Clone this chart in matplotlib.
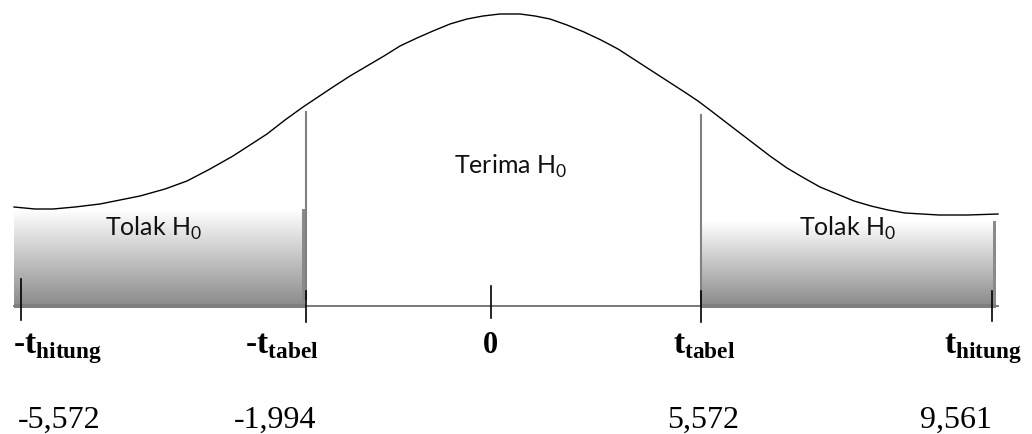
import numpy as np
import matplotlib.pyplot as plt
from matplotlib.colors import LinearSegmentedColormap

plt.rcParams['mathtext.fontset'] = 'custom'
plt.rcParams['mathtext.bf'] = 'Liberation Serif:bold'
plt.rcParams['mathtext.rm'] = 'Liberation Serif'
plt.rcParams['mathtext.sf'] = 'Lato'

# schematic curve (x to the right, height downwards)
curve_x = [14, 35, 53, 75, 100, 120, 140, 165, 187, 210, 233, 250, 267, 285, 303,
           318, 333, 350, 367, 384, 400, 417, 433, 450, 467, 483, 500, 510, 520,
           535, 550, 567, 584, 601, 618, 635, 652, 669, 686, 698, 710, 723, 736,
           753, 770, 787, 804, 820, 837, 854, 871, 888, 905, 922, 939, 968, 998]
curve_y = [208, 210, 210, 208, 205, 201, 197, 190, 182, 170, 157, 146, 135, 121, 108,
           98, 88, 77, 67, 57, 47, 39, 32, 25, 20, 17, 15, 15, 15,
           17, 20, 26, 33, 41, 50, 61, 72, 83, 94, 102, 111, 121, 131,
           144, 157, 169, 179, 188, 195, 202, 207, 211, 214, 215, 216, 216, 215]

# points on the t axis (schematic positions) and their labels
tick_pos = [21, 306, 491, 701, 992]
tick_names = ["-t", "-t", "0", "t", "t"]
tick_subs = ["hitung", "tabel", "", "tabel", "hitung"]
tick_values = ["-5,572", "-1,994", "", "5,572", "9,561"]

# rejection / acceptance regions
reject_left = (14, 305)
reject_right = (700, 996)
region_labels = ["Tolak H", "Terima H", "Tolak H"]

fig = plt.figure(figsize=(10.32, 4.35), dpi=100)
ax = fig.add_axes([0, 0, 1, 1])

gray_cmap = LinearSegmentedColormap.from_list("g", ["#ffffff", "#8d8d8d"])
grad = np.linspace(0, 1, 200).reshape(-1, 1)
for (x0, x1), top in zip([reject_left, reject_right], [210, 222]):
    ax.imshow(grad, cmap=gray_cmap, aspect='auto', extent=(x0, x1, 305, top),
              origin='upper', zorder=1, interpolation='bilinear')
    ax.add_patch(plt.Rectangle((x0, 305), x1 - x0, 4, color="#7f7f7f", lw=0, zorder=2))
    ax.add_patch(plt.Rectangle((x1 - 3, top), 3, 305 - top, color="#8a8a8a", lw=0, zorder=2))

# base line
ax.plot([14, 998], [307, 307], color="#6e6e6e", lw=1.3, zorder=1.5)

# curve
ax.plot(curve_x, curve_y, color="black", lw=1.0, zorder=3)

# borders of acceptance region
ax.plot([306, 306], [113, 300], color="#808080", lw=1.5, zorder=3)
ax.plot([701, 701], [116, 300], color="#808080", lw=1.5, zorder=3)

# tick marks
tick_top = [280, 292, 287, 292, 292]
tick_bot = [321, 323, 319, 323, 322]
for x, t0, t1 in zip(tick_pos, tick_top, tick_bot):
    ax.plot([x, x], [t0, t1], color="black", lw=1.2, zorder=4)

# region texts
ax.text(154, 228, region_labels[0] + r"$_{\mathsf{0}}$", family="Lato", fontsize=18,
        ha="center", va="center", zorder=5, color="#111111")
ax.text(511, 166, region_labels[1] + r"$_{\mathsf{0}}$", family="Lato", fontsize=18,
        ha="center", va="center", zorder=5, color="#111111")
ax.text(848, 228, region_labels[2] + r"$_{\mathsf{0}}$", family="Lato", fontsize=18,
        ha="center", va="center", zorder=5, color="#111111")

# axis labels
label_x = [58, 282, 490, 704, 983]
for x, name, sub in zip(label_x, tick_names, tick_subs):
    if sub:
        s = name[:-1] + r"$\mathbf{t}_{\mathbf{" + sub + "}}$"
        size = 24
    else:
        s = name
        size = 22
    ax.text(x, 353, s, family="Liberation Serif", fontweight="bold", fontsize=size,
            ha="center", va="baseline")

value_x = [59, 275, 490, 703, 956]
for x, v in zip(value_x, tick_values):
    if v:
        ax.text(x, 428, v, family="Liberation Serif", fontsize=23,
                ha="center", va="baseline")

ax.set_xlim(0, 1032)
ax.set_ylim(435, 0)
ax.axis("off")
fig.savefig("out.png", dpi=100)
